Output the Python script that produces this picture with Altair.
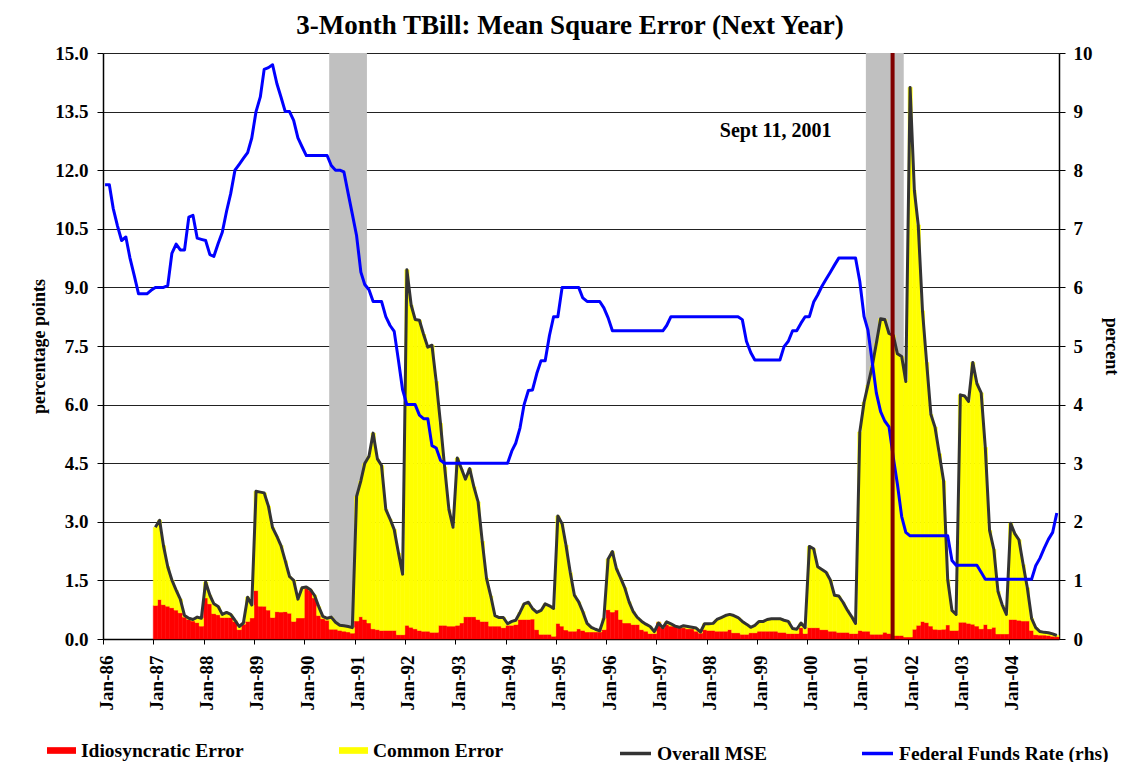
import altair as alt
import pandas as pd

TITLE = "3-Month TBill: Mean Square Error (Next Year)"
FONT = "Liberation Serif"

# Federal funds rate (rhs), monthly Jan-1986 .. Dec-2004
fed_rate = (
    [7.75, 7.75, 7.35, 7.05, 6.8, 6.86, 6.5, 6.2, 5.89, 5.89, 5.89, 5.95]          # 1986
    + [6.0, 6.0, 6.0, 6.03, 6.58, 6.74, 6.64, 6.64, 7.2, 7.23, 6.84, 6.82]         # 1987
    + [6.8, 6.56, 6.53, 6.75, 6.94, 7.3, 7.6, 8.0, 8.1, 8.2, 8.3, 8.55]            # 1988
    + [9.0, 9.25, 9.72, 9.75, 9.8, 9.48, 9.25, 9.0, 9.0, 8.85, 8.55, 8.4]          # 1989
    + [8.25, 8.25, 8.25, 8.25, 8.25, 8.25, 8.08, 8.0, 8.0, 7.97, 7.6, 7.25]        # 1990
    + [6.88, 6.26, 6.05, 5.96, 5.76, 5.76, 5.76, 5.5, 5.35, 5.25, 4.75, 4.25]      # 1991
    + [4.0, 4.0, 4.0, 3.82, 3.76, 3.76, 3.3, 3.26, 3.05, 3.0, 3.0, 3.0]            # 1992
    + [3.0, 3.0, 3.0, 3.0, 3.0, 3.0, 3.0, 3.0, 3.0, 3.0, 3.0, 3.0]                 # 1993
    + [3.0, 3.21, 3.34, 3.6, 4.0, 4.24, 4.25, 4.53, 4.75, 4.75, 5.18, 5.5]         # 1994
    + [5.5, 6.0, 6.0, 6.0, 6.0, 6.0, 5.82, 5.76, 5.76, 5.76, 5.76, 5.65]           # 1995
    + [5.48, 5.26, 5.26, 5.26, 5.26, 5.26, 5.26, 5.26, 5.26, 5.26, 5.26, 5.26]     # 1996
    + [5.26, 5.26, 5.35, 5.5, 5.5, 5.5, 5.5, 5.5, 5.5, 5.5, 5.5, 5.5]              # 1997
    + [5.5, 5.5, 5.5, 5.5, 5.5, 5.5, 5.5, 5.5, 5.45, 5.08, 4.89, 4.76]             # 1998
    + [4.76, 4.76, 4.76, 4.76, 4.76, 4.76, 4.99, 5.08, 5.26, 5.26, 5.39, 5.5]      # 1999
    + [5.5, 5.75, 5.87, 6.02, 6.14, 6.26, 6.38, 6.5, 6.5, 6.5, 6.5, 6.5]           # 2000
    + [6.1, 5.5, 5.27, 4.73, 4.2, 3.88, 3.72, 3.62, 3.1, 2.64, 2.09, 1.82]         # 2001
    + [1.76, 1.76, 1.76, 1.76, 1.76, 1.76, 1.76, 1.76, 1.76, 1.76, 1.34, 1.26]     # 2002
    + [1.26, 1.26, 1.26, 1.26, 1.26, 1.14, 1.02, 1.02, 1.02, 1.02, 1.02, 1.02]     # 2003
    + [1.02, 1.02, 1.02, 1.02, 1.02, 1.02, 1.25, 1.38, 1.55, 1.7, 1.82, 2.15]      # 2004
)

# Overall MSE, monthly Jan-1987 .. Dec-2004
overall_mse = (
    [2.86, 3.04, 2.39, 1.85, 1.51, 1.25, 1.02, 0.6, 0.53, 0.5, 0.56, 0.53]         # 1987
    + [1.46, 1.12, 0.9, 0.83, 0.63, 0.68, 0.63, 0.48, 0.32, 0.41, 1.07, 0.87]      # 1988
    + [3.78, 3.76, 3.74, 3.4, 2.85, 2.63, 2.39, 2.0, 1.6, 1.5, 1.02, 1.31]         # 1989
    + [1.33, 1.26, 1.12, 0.83, 0.58, 0.53, 0.56, 0.43, 0.35, 0.34, 0.32, 0.29]     # 1990
    + [3.65, 4.05, 4.49, 4.68, 5.27, 4.61, 4.44, 3.32, 3.07, 2.8, 2.2, 1.66]       # 1991
    + [9.45, 8.55, 8.18, 8.16, 7.8, 7.47, 7.52, 6.59, 5.52, 4.4, 3.32, 2.86]       # 1992
    + [4.63, 4.35, 4.09, 4.36, 3.9, 3.51, 2.5, 1.55, 1.1, 0.6, 0.55, 0.55]         # 1993
    + [0.39, 0.45, 0.48, 0.68, 0.9, 0.94, 0.78, 0.68, 0.73, 0.9, 0.85, 0.78]       # 1994
    + [3.15, 2.95, 2.4, 1.7, 1.12, 0.95, 0.7, 0.4, 0.3, 0.25, 0.21, 0.53]          # 1995
    + [2.05, 2.24, 1.8, 1.56, 1.31, 0.95, 0.7, 0.55, 0.45, 0.38, 0.32, 0.19]       # 1996
    + [0.41, 0.29, 0.44, 0.39, 0.33, 0.3, 0.34, 0.32, 0.3, 0.28, 0.18, 0.39]       # 1997
    + [0.39, 0.4, 0.5, 0.55, 0.6, 0.63, 0.6, 0.55, 0.45, 0.38, 0.3, 0.35]          # 1998
    + [0.45, 0.45, 0.5, 0.52, 0.52, 0.52, 0.48, 0.45, 0.27, 0.25, 0.41, 0.29]      # 1999
    + [2.37, 2.31, 1.85, 1.78, 1.71, 1.51, 1.12, 1.1, 0.94, 0.75, 0.58, 0.4]       # 2000
    + [5.3, 6.06, 6.5, 6.98, 7.57, 8.2, 8.18, 7.82, 7.77, 7.3, 7.23, 6.59]         # 2001
    + [14.12, 11.48, 10.6, 8.4, 7.08, 5.75, 5.42, 4.74, 4.05, 1.52, 0.73, 0.63]    # 2002
    + [6.25, 6.22, 6.08, 7.08, 6.54, 6.3, 4.9, 2.78, 2.29, 1.22, 0.87, 0.63]       # 2003
    + [2.96, 2.69, 2.54, 1.9, 1.31, 0.53, 0.29, 0.19, 0.17, 0.16, 0.13, 0.09]      # 2004
)

# Idiosyncratic error, monthly Jan-1987 .. Dec-2004
idio_err = (
    [0.86, 1.01, 0.88, 0.84, 0.8, 0.74, 0.67, 0.56, 0.5, 0.46, 0.42, 0.33]         # 1987
    + [1.05, 0.9, 0.65, 0.62, 0.55, 0.55, 0.55, 0.45, 0.24, 0.38, 0.45, 0.54]      # 1988
    + [1.24, 0.84, 0.84, 0.74, 0.55, 0.7, 0.69, 0.7, 0.66, 0.45, 0.54, 0.54]       # 1989
    + [1.3, 1.25, 1.05, 0.6, 0.52, 0.48, 0.25, 0.25, 0.22, 0.2, 0.18, 0.15]        # 1990
    + [0.46, 0.57, 0.5, 0.41, 0.26, 0.24, 0.22, 0.22, 0.22, 0.22, 0.11, 0.11]      # 1991
    + [0.35, 0.3, 0.26, 0.22, 0.2, 0.2, 0.17, 0.17, 0.35, 0.35, 0.33, 0.33]        # 1992
    + [0.35, 0.41, 0.57, 0.57, 0.57, 0.5, 0.45, 0.45, 0.33, 0.33, 0.33, 0.29]      # 1993
    + [0.35, 0.35, 0.37, 0.5, 0.5, 0.5, 0.51, 0.24, 0.12, 0.12, 0.12, 0.07]        # 1994
    + [0.4, 0.33, 0.23, 0.2, 0.2, 0.26, 0.22, 0.18, 0.18, 0.18, 0.18, 0.24]        # 1995
    + [0.75, 0.69, 0.74, 0.5, 0.41, 0.41, 0.37, 0.37, 0.24, 0.2, 0.14, 0.14]       # 1996
    + [0.43, 0.33, 0.37, 0.33, 0.33, 0.29, 0.29, 0.26, 0.26, 0.2, 0.15, 0.24]      # 1997
    + [0.22, 0.22, 0.2, 0.2, 0.2, 0.24, 0.16, 0.16, 0.12, 0.12, 0.16, 0.16]        # 1998
    + [0.2, 0.2, 0.2, 0.2, 0.2, 0.17, 0.17, 0.14, 0.14, 0.14, 0.29, 0.14]          # 1999
    + [0.29, 0.29, 0.29, 0.24, 0.24, 0.2, 0.2, 0.17, 0.17, 0.17, 0.14, 0.14]       # 2000
    + [0.22, 0.2, 0.2, 0.12, 0.12, 0.12, 0.17, 0.14, 0.09, 0.09, 0.09, 0.05]       # 2001
    + [0.05, 0.25, 0.35, 0.45, 0.42, 0.33, 0.25, 0.24, 0.25, 0.36, 0.22, 0.22]     # 2002
    + [0.43, 0.43, 0.4, 0.38, 0.33, 0.26, 0.37, 0.26, 0.3, 0.13, 0.13, 0.13]       # 2003
    + [0.5, 0.5, 0.48, 0.46, 0.46, 0.22, 0.11, 0.1, 0.1, 0.09, 0.07, 0.06]         # 2004
)

recession_start = ["1990-07-01", "2001-03-01"]
recession_end = ["1991-04-01", "2001-12-01"]
event_date = ["2001-09-11"]
note_text = ["Sept 11, 2001"]
note_date = ["1999-05-16"]
note_value = [13.0]
tick_years = list(range(1986, 2005))
left_ticks = [0, 1.5, 3.0, 4.5, 6.0, 7.5, 9.0, 10.5, 12.0, 13.5, 15.0]
right_ticks = list(range(0, 11))
legend_fill_names = ["Idiosyncratic Error", "Common Error"]
legend_fill_colors = ["#ff0000", "#ffff00"]
legend_line_names = ["Overall MSE", "Federal Funds Rate (rhs)"]
legend_line_colors = ["#333333", "#0000ff"]

# ---- tables ----
fed_months = pd.date_range("1986-01-01", periods=len(fed_rate), freq="MS")
fed_df = pd.DataFrame({"mid": fed_months + pd.Timedelta(days=15), "rate": fed_rate})
fed_df["line_series"] = legend_line_names[1]

mse_months = pd.date_range("1987-01-01", periods=len(overall_mse), freq="MS")
mse_df = pd.DataFrame({
    "start": mse_months,
    "end": mse_months + pd.offsets.MonthBegin(1),
    "mid": mse_months + pd.Timedelta(days=15),
    "idio": idio_err,
    "overall": overall_mse,
})
mse_df["fill_idio"] = legend_fill_names[0]
mse_df["fill_common"] = legend_fill_names[1]
mse_df["line_series"] = legend_line_names[0]

rec_df = pd.DataFrame({"start": pd.to_datetime(recession_start), "end": pd.to_datetime(recession_end)})
event_df = pd.DataFrame({"date": pd.to_datetime(event_date)})
note_df = pd.DataFrame({"date": pd.to_datetime(note_date), "value": note_value, "text": note_text})

# ---- scales / axes ----
x_scale = alt.Scale(
    domain=[alt.DateTime(year=1986, month=1, date=1), alt.DateTime(year=2005, month=1, date=1)],
    nice=False,
)
x_axis = alt.Axis(
    values=[alt.DateTime(year=y, month=1, date=1) for y in tick_years],
    format="%b-%y", labelAngle=-90, labelFont=FONT, labelFontWeight="bold",
    labelFontSize=19, labelColor="#000", labelPadding=11, labelOffset=3,
    tickSize=5, tickColor="#000", domainColor="#000", domainWidth=1.5,
    grid=False, title=None, labelOverlap=False, labelFlush=False,
)
left_scale = alt.Scale(domain=[0, 15], nice=False, zero=True)
left_axis = alt.Axis(
    orient="left", values=left_ticks, format=".1f", grid=True, gridColor="#222",
    gridWidth=1, labelFont=FONT, labelFontWeight="bold", labelFontSize=19,
    labelColor="#000", labelPadding=9, tickSize=6, tickColor="#000",
    domainColor="#000", domainWidth=1.5, title="percentage points",
    titleFont=FONT, titleFontWeight="bold", titleFontSize=18, titleColor="#000",
    titlePadding=6, labelFlush=False, labelOverlap=False,
)
right_scale = alt.Scale(domain=[0, 10], nice=False, zero=True)
right_axis = alt.Axis(
    orient="right", values=right_ticks, format="d", grid=False,
    labelFont=FONT, labelFontWeight="bold", labelFontSize=19, labelColor="#000",
    labelPadding=8, tickSize=6, tickColor="#000", domainColor="#000",
    domainWidth=1.5, title="percent", titleFont=FONT, titleFontWeight="bold",
    titleFontSize=18, titleColor="#000", titlePadding=9, titleAngle=90,
    labelFlush=False, labelOverlap=False,
)

fill_scale = alt.Scale(domain=legend_fill_names, range=legend_fill_colors)
stroke_scale = alt.Scale(domain=legend_line_names, range=legend_line_colors)

fill_legend = alt.Legend(
    title=None, orient="none", direction="horizontal", legendX=-56, legendY=683,
    symbolType="M-1,-0.23H1V0.23H-1Z", symbolSize=841, symbolStrokeWidth=0,
    labelFont=FONT, labelFontWeight="bold", labelFontSize=19.5, labelColor="#000",
    labelLimit=400, labelOffset=5, columnPadding=95, padding=0,
)
stroke_legend = alt.Legend(
    title=None, orient="none", direction="horizontal", legendX=515, legendY=683,
    symbolType="stroke", symbolSize=961, symbolStrokeWidth=3.5,
    labelFont=FONT, labelFontWeight="bold", labelFontSize=19.5, labelColor="#000",
    labelLimit=400, labelOffset=4, columnPadding=88, padding=0,
)

# ---- layers ----
gray = alt.Chart(rec_df).mark_rect(color="#c0c0c0").encode(
    x=alt.X("start:T", scale=x_scale, axis=x_axis),
    x2="end:T",
)

red = alt.Chart(mse_df).mark_rect(stroke="#ff0000", strokeWidth=0.5).encode(
    x=alt.X("start:T", scale=x_scale, axis=x_axis),
    x2="end:T",
    y=alt.Y("idio:Q", scale=left_scale, axis=left_axis),
    y2=alt.datum(0),
    fill=alt.Fill("fill_idio:N", scale=fill_scale, legend=fill_legend),
)
yellow = alt.Chart(mse_df).mark_rect(stroke="#ffff00", strokeWidth=0.5).encode(
    x=alt.X("start:T", scale=x_scale, axis=x_axis),
    x2="end:T",
    y=alt.Y("overall:Q", scale=left_scale, axis=left_axis),
    y2="idio:Q",
    fill=alt.Fill("fill_common:N", scale=fill_scale, legend=fill_legend),
)
mse_line = alt.Chart(mse_df).mark_line(strokeWidth=3, strokeJoin="round").encode(
    x=alt.X("mid:T", scale=x_scale, axis=x_axis),
    y=alt.Y("overall:Q", scale=left_scale, axis=left_axis),
    stroke=alt.Stroke("line_series:N", scale=stroke_scale, legend=stroke_legend),
)
note = alt.Chart(note_df).mark_text(
    font=FONT, fontSize=20, fontWeight="bold", color="#000", align="center", baseline="middle"
).encode(
    x=alt.X("date:T", scale=x_scale, axis=x_axis),
    y=alt.Y("value:Q", scale=left_scale, axis=left_axis),
    text="text:N",
)
left_group = alt.layer(red, yellow, mse_line, note)

fed_line = alt.Chart(fed_df).mark_line(strokeWidth=3, strokeJoin="round").encode(
    x=alt.X("mid:T", scale=x_scale, axis=x_axis),
    y=alt.Y("rate:Q", scale=right_scale, axis=right_axis),
    stroke=alt.Stroke("line_series:N", scale=stroke_scale, legend=stroke_legend),
)

rule = alt.Chart(event_df).mark_rule(color="#800000", strokeWidth=4).encode(
    x=alt.X("date:T", scale=x_scale, axis=x_axis),
)

chart = alt.layer(gray, left_group, fed_line, rule).resolve_scale(
    y="independent"
).properties(
    width=956,
    height=586,
    autosize=alt.AutoSizeParams(type="none"),
    padding={"left": 95, "top": 45, "right": 64, "bottom": 123},
    title=alt.TitleParams(
        TITLE, font=FONT, fontSize=27, fontWeight="bold", color="#000",
        anchor="middle", offset=4, dx=-11,
    ),
).configure_view(stroke=None).configure(background="#ffffff")

chart.save("out.html", embed_options={"renderer": "svg", "actions": False})
